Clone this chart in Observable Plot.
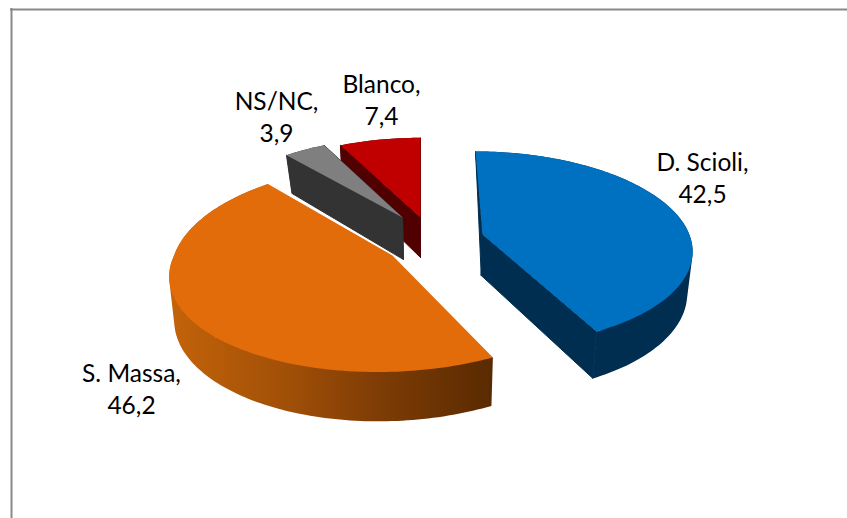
<!DOCTYPE html>
<html><head><meta charset="utf-8">
<script src="https://cdn.jsdelivr.net/npm/d3@7"></script>
<script src="https://cdn.jsdelivr.net/npm/@observablehq/plot@0.6"></script>
<style>html,body{margin:0;padding:0;background:#fff;overflow:hidden}svg{display:block}</style>
</head><body><div id="chart"></div>
<script>
// data
const categories = ["D. Scioli", "S. Massa", "NS/NC", "Blanco"];
const values = [42.5, 46.2, 3.9, 7.4];
const valueLabels = ["42,5", "46,2", "3,9", "7,4"];
const topColors = ["#0070c0", "#e26b0a", "#7f7f7f", "#c00000"];
const wallColors = ["#002e50", "url(#massaWall)", "#333333", "#500000"];
const sideColors = ["#002e50", null, "#333333", "#500000"];
// layout of the exploded 3D pie
const apexX = [482, 392, 402, 420];
const apexY = [234, 255, 217, 217];
const sizesX = [0.985, 1.04, 0.94, 0.96];
const sizesYFront = [1, 1.05, 0.96, 0.96];
const sizesYBack = [1, 1.1, 0.96, 0.96];
const shearFront = [7, -15, 0, 0];
const shearBack = [7, -5, 0, 0];
const backLean = [0.035, 0, 0.035, 0];
const wallExtra = [0, 0, 2, 0];
const labelX = [702, 131, 276, 381];
const labelY = [176, 387, 115, 98];
const W = 847, H = 518, A = 210, B = 95, K = 0.144, VIEW = 420;

const total = d3.sum(values);
const cum = d3.cumsum(values);
function surf(i, t) {
  const u = Math.sin(t), v = -Math.cos(t), s = 1 / (1 - K * v);
  return {x: apexX[i] + A * u * s * sizesX[i] + (v > 0 ? shearFront[i] : shearBack[i]) * v,
          y: apexY[i] + B * v * s * (v > 0 ? sizesYFront[i] : sizesYBack[i])};
}
function drop(i, p) {
  return {x: p.x - (p.x - VIEW) * 0.02 + Math.max(0, 234 - p.y) * backLean[i],
          y: p.y + 36 + wallExtra[i] + (p.y - 150) * 0.06};
}
function arc(i) {
  const t0 = (cum[i] - values[i]) / total * 2 * Math.PI, t1 = cum[i] / total * 2 * Math.PI;
  const n = Math.ceil(values[i] * 3);
  return d3.range(n + 1).map(j => surf(i, t0 + (t1 - t0) * j / n));
}
const marks = [];
[0, 3, 2, 1].forEach(i => {
  const rim = arc(i), ap = {x: apexX[i], y: apexY[i]};
  const quad = (a, b) => {
    const q = [a, b, drop(i, b), drop(i, a)];
    const ordered = d3.polygonArea(q.map(p => [p.x, p.y])) < 0 ? q.slice().reverse() : q;
    return [...ordered, ordered[0]];
  };
  const curved = d3.range(rim.length - 1).flatMap(j => quad(rim[j], rim[j + 1]));
  marks.push(Plot.line(curved, {x: "x", y: "y", fill: wallColors[i], stroke: "none", curve: "linear"}));
  if (sideColors[i]) [rim[0], rim[rim.length - 1]].forEach(end =>
    marks.push(Plot.line(quad(ap, end), {x: "x", y: "y", fill: sideColors[i], stroke: sideColors[i], strokeWidth: 1, curve: "linear"})));
  marks.push(Plot.line([ap, ...rim], {x: "x", y: "y", fill: topColors[i], stroke: "none", curve: "linear"}));
});
const labels = categories.map((c, i) => ({x: labelX[i], y: labelY[i], t: c + ",\n" + valueLabels[i]}));
const chart = Plot.plot({
  width: W, height: H, margin: 0,
  x: {domain: [0, W], range: [0, W], axis: null},
  y: {domain: [0, H], range: [0, H], axis: null},
  marks: [
    Plot.ruleX([11], {y1: 8, y2: H, stroke: "#898989", strokeWidth: 2}),
    Plot.ruleY([9], {x1: 10, x2: W, stroke: "#898989", strokeWidth: 2}),
    ...marks,
    Plot.text(labels, {x: "x", y: "y", text: "t", fontSize: 24.5, lineHeight: 1.31, fill: "#000", fontFamily: "Lato"})
  ]
});
const grad = d3.select(chart).insert("defs", ":first-child").append("linearGradient").attr("id", "massaWall");
[[0, "#c4630a"], [0.37, "#a04f07"], [0.64, "#7f3d05"], [1, "#592a01"]].forEach(([o, c]) =>
  grad.append("stop").attr("offset", o).attr("stop-color", c));
document.getElementById("chart").append(chart);
</script></body></html>
